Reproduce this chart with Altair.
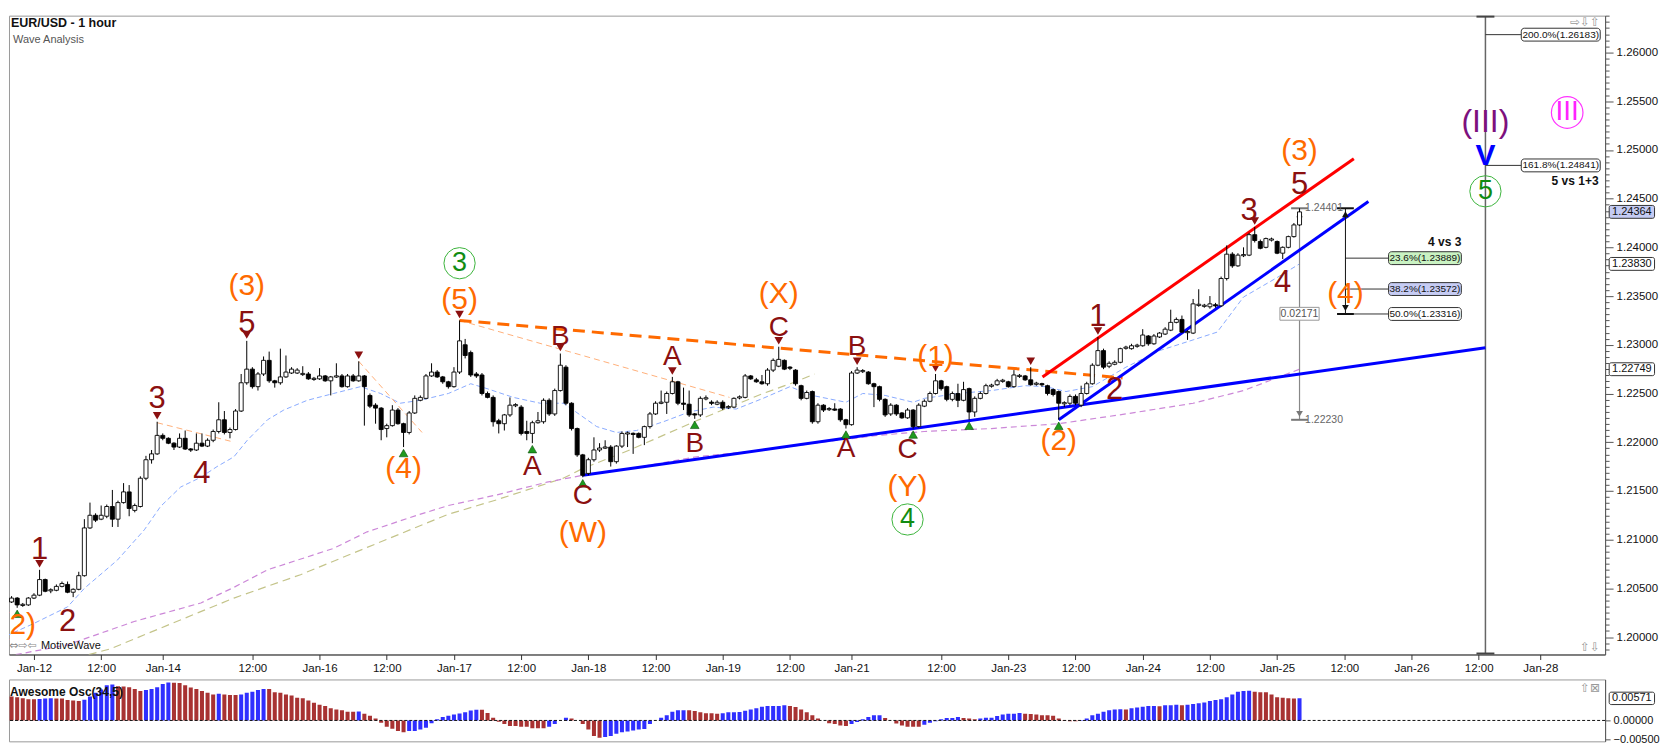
import altair as alt
import pandas as pd

# ---------------- data ----------------
FIRST_BAR = -5  # hourly bars, bar 0 = Jan-12 00:00

OPEN = [1.2038, 1.2036, 1.2040, 1.2033, 1.2033,
 1.2040, 1.2043, 1.2059, 1.2048, 1.2048, 1.2052, 1.2054, 1.2046, 1.2049, 1.2063,
 1.2112, 1.2125, 1.2121, 1.2124, 1.2134, 1.2121, 1.2138, 1.2149, 1.2130, 1.2134,
 1.2163, 1.2182, 1.2188, 1.2207, 1.2204, 1.2199, 1.2195, 1.2204, 1.2193, 1.2192,
 1.2199, 1.2196, 1.2202, 1.2211, 1.2223, 1.2210, 1.2213, 1.2232, 1.2261, 1.2275,
 1.2257, 1.2270, 1.2284, 1.2263, 1.2261, 1.2267, 1.2271, 1.2271, 1.2270, 1.2270,
 1.2265, 1.2265, 1.2268, 1.2263, 1.2267, 1.2268, 1.2257, 1.2268, 1.2263, 1.2268,
 1.2248, 1.2238, 1.2235, 1.2214, 1.2217, 1.2233, 1.2219, 1.2210, 1.2230, 1.2243,
 1.2245, 1.2268, 1.2272, 1.2267, 1.2262, 1.2257, 1.2272, 1.2300, 1.2292, 1.2270,
 1.2269, 1.2250, 1.2246, 1.2222, 1.2219, 1.2228, 1.2238, 1.2236, 1.2211, 1.2209,
 1.2220, 1.2221, 1.2243, 1.2229, 1.2253, 1.2277, 1.2240, 1.2214, 1.2187, 1.2168,
 1.2182, 1.2192, 1.2194, 1.2195, 1.2180, 1.2196, 1.2209, 1.2209, 1.2209, 1.2205,
 1.2216, 1.2229, 1.2240, 1.2241, 1.2250, 1.2262, 1.2240, 1.2239, 1.2229, 1.2228,
 1.2245, 1.2241, 1.2239, 1.2241, 1.2236, 1.2236, 1.2246, 1.2246, 1.2268, 1.2264,
 1.2262, 1.2260, 1.2274, 1.2278, 1.2284, 1.2277, 1.2274, 1.2258, 1.2245, 1.2252,
 1.2221, 1.2238, 1.2234, 1.2234, 1.2234, 1.2223, 1.2218, 1.2271, 1.2273, 1.2272,
 1.2260, 1.2257, 1.2244, 1.2229, 1.2238, 1.2230, 1.2225, 1.2233, 1.2216, 1.2237,
 1.2242, 1.2250, 1.2263, 1.2257, 1.2244, 1.2250, 1.2243, 1.2255, 1.2231, 1.2245,
 1.2250, 1.2258, 1.2259, 1.2263, 1.2262, 1.2257, 1.2268, 1.2268, 1.2264, 1.2260,
 1.2260, 1.2258, 1.2254, 1.2252, 1.2240, 1.2240, 1.2247, 1.2238, 1.2250, 1.2260,
 1.2279, 1.2294, 1.2278, 1.2280, 1.2282, 1.2297, 1.2296, 1.2299, 1.2299, 1.2309,
 1.2301, 1.2308, 1.2311, 1.2315, 1.2323, 1.2326, 1.2313, 1.2312, 1.2341, 1.2340,
 1.2339, 1.2341, 1.2340, 1.2368, 1.2393, 1.2381, 1.2392, 1.2392, 1.2413, 1.2406,
 1.2400, 1.2408, 1.2406, 1.2394, 1.2400, 1.2411, 1.2423]

HIGH = [1.2041, 1.2042, 1.2041, 1.2035, 1.2041,
 1.2045, 1.2069, 1.2060, 1.2050, 1.2054, 1.2057, 1.2057, 1.2050, 1.2067, 1.2121,
 1.2138, 1.2127, 1.2135, 1.2136, 1.2151, 1.2140, 1.2158, 1.2156, 1.2137, 1.2165,
 1.2186, 1.2192, 1.2221, 1.2209, 1.2205, 1.2200, 1.2209, 1.2212, 1.2194, 1.2209,
 1.2209, 1.2204, 1.2213, 1.2241, 1.2232, 1.2215, 1.2234, 1.2270, 1.2304, 1.2277,
 1.2272, 1.2288, 1.2293, 1.2264, 1.2296, 1.2289, 1.2277, 1.2276, 1.2278, 1.2272,
 1.2267, 1.2276, 1.2269, 1.2268, 1.2281, 1.2270, 1.2270, 1.2270, 1.2283, 1.2269,
 1.2250, 1.2240, 1.2236, 1.2219, 1.2238, 1.2235, 1.2220, 1.2232, 1.2248, 1.2248,
 1.2270, 1.2281, 1.2274, 1.2268, 1.2263, 1.2277, 1.2325, 1.2306, 1.2294, 1.2272,
 1.2271, 1.2252, 1.2248, 1.2224, 1.2229, 1.2246, 1.2240, 1.2238, 1.2222, 1.2222,
 1.2231, 1.2245, 1.2245, 1.2255, 1.2291, 1.2279, 1.2241, 1.2215, 1.2188, 1.2184,
 1.2205, 1.2199, 1.2202, 1.2197, 1.2197, 1.2211, 1.2211, 1.2210, 1.2210, 1.2217,
 1.2231, 1.2242, 1.2253, 1.2252, 1.2267, 1.2263, 1.2256, 1.2253, 1.2230, 1.2247,
 1.2248, 1.2243, 1.2243, 1.2243, 1.2238, 1.2246, 1.2248, 1.2270, 1.2269, 1.2266,
 1.2269, 1.2276, 1.2286, 1.2298, 1.2285, 1.2278, 1.2275, 1.2259, 1.2253, 1.2253,
 1.2240, 1.2239, 1.2236, 1.2240, 1.2235, 1.2224, 1.2273, 1.2277, 1.2275, 1.2273,
 1.2261, 1.2258, 1.2245, 1.2240, 1.2239, 1.2231, 1.2235, 1.2234, 1.2240, 1.2244,
 1.2252, 1.2270, 1.2264, 1.2258, 1.2252, 1.2260, 1.2262, 1.2256, 1.2247, 1.2252,
 1.2260, 1.2260, 1.2265, 1.2265, 1.2263, 1.2274, 1.2270, 1.2269, 1.2277, 1.2262,
 1.2261, 1.2259, 1.2255, 1.2253, 1.2242, 1.2249, 1.2249, 1.2258, 1.2262, 1.2281,
 1.2308, 1.2296, 1.2283, 1.2284, 1.2297, 1.2299, 1.2301, 1.2301, 1.2316, 1.2310,
 1.2311, 1.2313, 1.2318, 1.2336, 1.2328, 1.2330, 1.2315, 1.2347, 1.2357, 1.2342,
 1.2350, 1.2343, 1.2370, 1.2402, 1.2395, 1.2394, 1.2400, 1.2415, 1.2421, 1.2408,
 1.2410, 1.2410, 1.2407, 1.2401, 1.2412, 1.2425, 1.24401]

LOW = [1.2036, 1.2035, 1.2030, 1.2031, 1.2032,
 1.2039, 1.2042, 1.2046, 1.2045, 1.2047, 1.2051, 1.2045, 1.2041, 1.2048, 1.2062,
 1.2111, 1.2118, 1.2120, 1.2122, 1.2113, 1.2113, 1.2137, 1.2124, 1.2128, 1.2133,
 1.2161, 1.2178, 1.2187, 1.2202, 1.2198, 1.2192, 1.2194, 1.2192, 1.2190, 1.2191,
 1.2195, 1.2195, 1.2200, 1.2209, 1.2208, 1.2204, 1.2212, 1.2231, 1.2259, 1.2255,
 1.2253, 1.2268, 1.2261, 1.2256, 1.2259, 1.2266, 1.2270, 1.2270, 1.2268, 1.2264,
 1.2263, 1.2264, 1.2262, 1.2248, 1.2266, 1.2256, 1.2256, 1.2262, 1.2262, 1.2217,
 1.2235, 1.2219, 1.2202, 1.2205, 1.2216, 1.2218, 1.2195, 1.2208, 1.2229, 1.2242,
 1.2244, 1.2267, 1.2266, 1.2260, 1.2255, 1.2256, 1.2270, 1.2286, 1.2267, 1.2266,
 1.2248, 1.2245, 1.2216, 1.2209, 1.2212, 1.2226, 1.2236, 1.2207, 1.2202, 1.2199,
 1.2219, 1.2219, 1.2227, 1.2227, 1.2252, 1.2238, 1.2212, 1.2185, 1.2164, 1.2166,
 1.2180, 1.2190, 1.2193, 1.2175, 1.2178, 1.2194, 1.2195, 1.2188, 1.2204, 1.2197,
 1.2214, 1.2228, 1.2239, 1.2229, 1.2249, 1.2238, 1.2233, 1.2226, 1.2224, 1.2226,
 1.2243, 1.2238, 1.2238, 1.2233, 1.2234, 1.2235, 1.2244, 1.2245, 1.2264, 1.2261,
 1.2259, 1.2258, 1.2272, 1.2277, 1.2274, 1.2274, 1.2258, 1.2243, 1.2244, 1.2219,
 1.2219, 1.2231, 1.2232, 1.2232, 1.2221, 1.2214, 1.2217, 1.2270, 1.2271, 1.2259,
 1.2236, 1.2242, 1.2226, 1.2227, 1.2227, 1.2224, 1.2224, 1.2214, 1.2215, 1.2236,
 1.2241, 1.2249, 1.2253, 1.2242, 1.2242, 1.2236, 1.2242, 1.2223, 1.2226, 1.2244,
 1.2249, 1.2256, 1.2258, 1.2261, 1.2256, 1.2256, 1.2266, 1.2263, 1.2258, 1.2258,
 1.2257, 1.2248, 1.2247, 1.2223, 1.2236, 1.2238, 1.2238, 1.2236, 1.2249, 1.2259,
 1.2278, 1.2275, 1.2276, 1.2279, 1.2281, 1.2295, 1.2295, 1.2297, 1.2298, 1.2299,
 1.2300, 1.2307, 1.2310, 1.2314, 1.2322, 1.2312, 1.2305, 1.2311, 1.2339, 1.2338,
 1.2337, 1.2338, 1.2339, 1.2366, 1.2379, 1.2380, 1.2390, 1.2391, 1.2405, 1.2398,
 1.2399, 1.2406, 1.2393, 1.2388, 1.2399, 1.2410, 1.2422]

CLOSE = [1.2038, 1.2040, 1.2033, 1.2033, 1.2040,
 1.2043, 1.2059, 1.2047, 1.2048, 1.2052, 1.2055, 1.2046, 1.2049, 1.2063, 1.2112,
 1.2125, 1.2120, 1.2125, 1.2134, 1.2121, 1.2138, 1.2149, 1.2132, 1.2135, 1.2163,
 1.2182, 1.2188, 1.2207, 1.2204, 1.2199, 1.2195, 1.2204, 1.2193, 1.2192, 1.2199,
 1.2196, 1.2202, 1.2211, 1.2223, 1.2210, 1.2213, 1.2232, 1.2261, 1.2275, 1.2257,
 1.2270, 1.2284, 1.2263, 1.2261, 1.2267, 1.2272, 1.2275, 1.2274, 1.2270, 1.2265,
 1.2265, 1.2268, 1.2263, 1.2267, 1.2268, 1.2257, 1.2268, 1.2263, 1.2268, 1.2257,
 1.2237, 1.2235, 1.2213, 1.2217, 1.2233, 1.2219, 1.2210, 1.2230, 1.2245, 1.2246,
 1.2268, 1.2272, 1.2267, 1.2262, 1.2257, 1.2272, 1.2304, 1.2289, 1.2269, 1.2268,
 1.2250, 1.2246, 1.2221, 1.2219, 1.2228, 1.2238, 1.2238, 1.2209, 1.2209, 1.2220,
 1.2222, 1.2243, 1.2229, 1.2253, 1.2279, 1.2240, 1.2214, 1.2187, 1.2166, 1.2182,
 1.2192, 1.2194, 1.2195, 1.2180, 1.2196, 1.2209, 1.2209, 1.2208, 1.2205, 1.2216,
 1.2229, 1.2240, 1.2241, 1.2250, 1.2262, 1.2240, 1.2239, 1.2228, 1.2228, 1.2245,
 1.2245, 1.2240, 1.2241, 1.2235, 1.2236, 1.2245, 1.2246, 1.2268, 1.2265, 1.2262,
 1.2260, 1.2274, 1.2284, 1.2285, 1.2275, 1.2276, 1.2260, 1.2245, 1.2251, 1.2221,
 1.2238, 1.2233, 1.2234, 1.2233, 1.2223, 1.2218, 1.2271, 1.2274, 1.2273, 1.2260,
 1.2257, 1.2244, 1.2228, 1.2238, 1.2229, 1.2225, 1.2233, 1.2216, 1.2238, 1.2242,
 1.2250, 1.2263, 1.2255, 1.2244, 1.2250, 1.2243, 1.2254, 1.2231, 1.2245, 1.2250,
 1.2258, 1.2258, 1.2263, 1.2263, 1.2257, 1.2269, 1.2268, 1.2264, 1.2259, 1.2260,
 1.2259, 1.2250, 1.2249, 1.2240, 1.2240, 1.2247, 1.2240, 1.2250, 1.2260, 1.2279,
 1.2294, 1.2277, 1.2281, 1.2282, 1.2296, 1.2297, 1.2299, 1.2299, 1.2310, 1.2301,
 1.2309, 1.2312, 1.2316, 1.2323, 1.2326, 1.2313, 1.2313, 1.2342, 1.2341, 1.2340,
 1.2342, 1.2340, 1.2368, 1.2393, 1.2381, 1.2392, 1.2392, 1.2413, 1.2407, 1.2399,
 1.2409, 1.2408, 1.2394, 1.2400, 1.2411, 1.2423, 1.24364]

AO = [0.00671, 0.00621, 0.00600, 0.00571, 0.00550,
 0.00548, 0.00552, 0.00565, 0.00571, 0.00569, 0.00566, 0.00528, 0.00514, 0.00500, 0.00535,
 0.00621, 0.00714, 0.00800, 0.00907, 0.00928, 0.00885, 0.00880, 0.00857, 0.00814, 0.00764,
 0.00785, 0.00814, 0.00857, 0.00942, 0.00978, 0.00975, 0.00971, 0.00907, 0.00850, 0.00814,
 0.00764, 0.00714, 0.00671, 0.00693, 0.00671, 0.00657, 0.00655, 0.00671, 0.00714, 0.00743,
 0.00785, 0.00814, 0.00812, 0.00728, 0.00714, 0.00671, 0.00643, 0.00585, 0.00571, 0.00514,
 0.00457, 0.00407, 0.00371, 0.00314, 0.00286, 0.00264, 0.00228, 0.00226, 0.00230, 0.00171,
 0.00121, 0.00050, -0.00057, -0.00164, -0.00214, -0.00271, -0.00307, -0.00271, -0.00270, -0.00236,
 -0.00186, -0.00071, 0.00029, 0.00086, 0.00121, 0.00157, 0.00179, 0.00214, 0.00257, 0.00278,
 0.00276, 0.00193, 0.00071, -0.00036, -0.00093, -0.00143, -0.00145, -0.00164, -0.00166, -0.00200,
 -0.00201, -0.00203, -0.00164, -0.00093, 0.00001, 0.00071, 0.00050, -0.00001, -0.00093, -0.00236,
 -0.00400, -0.00450, -0.00428, -0.00400, -0.00343, -0.00307, -0.00286, -0.00257, -0.00236, -0.00221,
 -0.00093, 0.00001, 0.00071, 0.00136, 0.00228, 0.00264, 0.00265, 0.00263, 0.00243, 0.00214,
 0.00186, 0.00185, 0.00171, 0.00186, 0.00214, 0.00215, 0.00216, 0.00250, 0.00286, 0.00314,
 0.00357, 0.00371, 0.00372, 0.00373, 0.00393, 0.00371, 0.00350, 0.00286, 0.00214, 0.00136,
 0.00050, -0.00001, -0.00071, -0.00093, -0.00128, -0.00143, -0.00093, -0.00043, 0.00029, 0.00086,
 0.00136, 0.00137, 0.00064, -0.00001, -0.00079, -0.00128, -0.00164, -0.00165, -0.00166, -0.00114,
 -0.00057, -0.00021, 0.00029, 0.00064, 0.00065, 0.00086, 0.00064, 0.00050, 0.00029, 0.00050,
 0.00071, 0.00072, 0.00114, 0.00157, 0.00171, 0.00172, 0.00193, 0.00171, 0.00170, 0.00157,
 0.00136, 0.00135, 0.00121, 0.00050, 0.00014, -0.00021, -0.00022, -0.00015, 0.00050, 0.00136,
 0.00171, 0.00228, 0.00264, 0.00286, 0.00287, 0.00285, 0.00314, 0.00336, 0.00357, 0.00371,
 0.00372, 0.00370, 0.00393, 0.00394, 0.00407, 0.00393, 0.00407, 0.00428, 0.00443, 0.00464,
 0.00500, 0.00528, 0.00550, 0.00600, 0.00671, 0.00743, 0.00764, 0.00765, 0.00743, 0.00728,
 0.00727, 0.00671, 0.00600, 0.00585, 0.00571, 0.00570, 0.00571]

MA_FAST_BAR = [-5, 0, 6, 9, 14.9, 19.7, 22.6, 26.2, 29.8, 32.7, 35.7, 38.1, 41.7, 44.6, 48.8,
               53.5, 58.3, 61.9, 65.4, 69, 74, 78, 80.9, 85.6, 90.4, 94.5, 96.3, 100.5, 104,
               107.6, 112.4, 117, 121.3, 125.4, 130.2, 135, 139, 145, 148, 152, 157, 159, 165,
               171, 177, 180.7, 184.3, 189, 195, 201, 207, 211.3, 216, 222, 226]
MA_FAST = [1.2001, 1.2014, 1.2031, 1.2050, 1.2079, 1.2110, 1.2134, 1.2154, 1.2164, 1.2175,
           1.2185, 1.2202, 1.2223, 1.2233, 1.2243, 1.2250, 1.2257, 1.2250, 1.2240, 1.2243,
           1.2250, 1.2260, 1.2255, 1.2246, 1.2240, 1.2240, 1.2233, 1.2216, 1.2210, 1.2212,
           1.2221, 1.2231, 1.2236, 1.2234, 1.2245, 1.2257, 1.2248, 1.2241, 1.2250, 1.2248,
           1.2241, 1.2245, 1.2250, 1.2253, 1.2258, 1.2257, 1.2252, 1.2257, 1.2277, 1.2294,
           1.2305, 1.2313, 1.2349, 1.2369, 1.2383]
MA_SLOW_BAR = [-5, 6, 17.9, 29.8, 35.7, 41.7, 53.5, 59.5, 68.4, 74, 82.7, 91.6, 98, 106.4,
               118.3, 130.2, 142, 150.7, 159, 171, 183, 195, 207, 216, 226]
MA_SLOW = [1.1980, 1.1992, 1.2016, 1.2035, 1.2051, 1.2069, 1.2091, 1.2108, 1.2125, 1.2135,
           1.2146, 1.2159, 1.2166, 1.2173, 1.2185, 1.2192, 1.2201, 1.2207, 1.2211, 1.2214,
           1.2219, 1.2229, 1.2240, 1.2253, 1.22749]
MA_OLIVE_BAR = [5.3, 13.7, 23.8, 35.7, 47.6, 59.5, 68.4, 74, 82.7, 94.5, 98, 106.4, 118.3,
                130.2, 136, 139.4]
MA_OLIVE = [1.1975, 1.1988, 1.2012, 1.2040, 1.2064, 1.2092, 1.2113, 1.2126, 1.2141, 1.2163,
            1.2173, 1.2192, 1.2222, 1.2250, 1.2262, 1.2270]

TICK_BARS = [0, 12, 23, 39, 51, 63, 75, 87, 99, 111, 123, 135, 146, 162, 174, 186, 198,
             210, 222, 234, 246, 258, 269]
TICK_LABELS = ['Jan-12', '12:00', 'Jan-14', '12:00', 'Jan-16', '12:00', 'Jan-17', '12:00',
               'Jan-18', '12:00', 'Jan-19', '12:00', 'Jan-21', '12:00', 'Jan-23', '12:00',
               'Jan-24', '12:00', 'Jan-25', '12:00', 'Jan-26', '12:00', 'Jan-28']

# trend lines: (bars, prices)
TREND_RED = ([180.1, 235.7], [1.2267, 1.2491])
TREND_BLUE_CH = ([183, 238.3], [1.2223, 1.2447])
TREND_BLUE_LOW = ([98, 259.2], [1.2166, 1.2297])
TREND_ORANGE = ([76, 194.4], [1.2325, 1.2266])
THIN_ORANGE = [([22, 35.1], [1.2220, 1.2201]),
               ([58, 69.3], [1.2283, 1.2210]),
               ([76, 124.2], [1.2325, 1.2246])]

# wave labels: (text, bar, price)
DR_NUM = [("1", 1, 1.20893), ("2", 6, 1.20150), ("3", 22, 1.22444), ("4", 30, 1.21675),
          ("5", 38, 1.23212), ("1", 190, 1.23284), ("2", 193, 1.22533), ("3", 217, 1.24377),
          ("4", 223, 1.23632), ("5", 226, 1.24639)]
DR_LET = [("A", 89, 1.21747), ("B", 94, 1.23079), ("C", 98, 1.21447), ("A", 114, 1.22874),
          ("B", 118, 1.21986), ("C", 133, 1.23171), ("A", 145, 1.21935), ("B", 147, 1.22976),
          ("C", 156, 1.21918)]
ORANGE = [("(1)", -8.2, 1.20794), ("(2)", -2.9, 1.20128), ("(3)", 38, 1.23601),
          ("(4)", 66, 1.21729), ("(5)", 76, 1.23458), ("(W)", 98, 1.21064),
          ("(X)", 133, 1.23523), ("(Y)", 156, 1.21542), ("(1)", 161, 1.22874),
          ("(2)", 183, 1.22013), ("(3)", 226, 1.24992), ("(4)", 234.2, 1.23516)]
GREEN = [("3", 76, 1.23837), ("4", 156, 1.21207), ("5", 259.2, 1.24575)]
PURPLE = [("(III)", 259.2, 1.25290)]
BLUE_V = [("V", 259.2, 1.24940)]
MAGENTA = [("III", 273.8, 1.25384)]

HIGH_MARK_BARS = [1, 22, 38, 58, 76, 94, 114, 133, 147, 161, 178, 190, 218]
LOW_MARK_BARS = [-3, 66, 89, 98, 118, 145, 157, 167, 183]

FIB_EXT_PCT = ['200.0%', '161.8%']
FIB_EXT_VAL = [1.26183, 1.24841]
FIB_RET_PCT = ['23.6%', '38.2%', '50.0%']
FIB_RET_VAL = [1.23889, 1.23572, 1.23316]
WAVE3_HIGH = 1.24401
WAVE2_LOW = 1.22230
AXIS_TAGS = [1.24364, 1.23830, 1.22749]
AO_LAST = 0.00571

# ---------------- layout constants ----------------
XDOM = [-4.46, 280.57]
YDOM = [1.19821, 1.26378]
AODOM = [-0.0054, 0.0106]
W, H, HAO = 1599, 640, 62
FONT = 'Liberation Sans'
DARKRED = '#8b1010'
ORANGE_C = '#ff6a00'

XS = alt.Scale(domain=XDOM, nice=False, zero=False)
YS = alt.Scale(domain=YDOM, nice=False, zero=False)
AOS = alt.Scale(domain=AODOM, nice=False, zero=False)

labels_js = "[" + ",".join("'%s'" % l for l in TICK_LABELS) + "]"
bars_js = "[" + ",".join(str(b) for b in TICK_BARS) + "]"
XAX = alt.Axis(values=TICK_BARS, labelExpr=f"{labels_js}[indexof({bars_js}, datum.value)]",
               title=None, grid=False, tickSize=5, labelFontSize=11.5, labelFont=FONT,
               labelColor='#111', domainColor='#333', tickColor='#333', labelPadding=3,
               labelOverlap=False, labelFlush=False)
minor_vals = [round(1.19875 + 0.000625 * k, 6) for k in range(105)]
major_test = "abs(datum.value*200 - round(datum.value*200)) < 0.001"
YAX = alt.Axis(orient='right', values=minor_vals, title=None, grid=False,
               labelExpr=f"({major_test}) ? format(datum.value, '.5f') : ''",
               tickSize={"condition": {"test": major_test, "value": 8}, "value": 4},
               labelFontSize=11.5, labelFont=FONT, labelColor='#111', domainColor='#555',
               tickColor='#555', labelPadding=3, labelOverlap=False, labelFlush=False)


def X(f):
    return alt.X(f'{f}:Q', scale=XS, axis=XAX)


def Y(f):
    return alt.Y(f'{f}:Q', scale=YS, axis=YAX)


def line_df(xs, ys, seg=0):
    return pd.DataFrame({'bar': xs, 'price': ys, 'seg': seg})


def lab_df(rows):
    return pd.DataFrame(rows, columns=['t', 'bar', 'price'])


# ---------------- candles ----------------
n = min(len(OPEN), len(HIGH), len(LOW), len(CLOSE))
c = pd.DataFrame({'bar': list(range(FIRST_BAR, FIRST_BAR + n)), 'open': OPEN[:n],
                  'high': HIGH[:n], 'low': LOW[:n], 'close': CLOSE[:n]})
c['top'] = c[['open', 'close']].max(axis=1)
c['bot'] = c[['open', 'close']].min(axis=1)
mid = (c['top'] + c['bot']) / 2
thin = (c['top'] - c['bot']) < 0.00012
c.loc[thin, 'top'] = mid[thin] + 0.00006
c.loc[thin, 'bot'] = mid[thin] - 0.00006
c['hi'] = c[['high', 'top']].max(axis=1)
c['lo'] = c[['low', 'bot']].min(axis=1)
c['up'] = c['close'] >= c['open']
c['x0'] = c['bar'] - 0.36
c['x1'] = c['bar'] + 0.36

wicks = alt.Chart(c).mark_rule(color='black', strokeWidth=1, clip=True).encode(
    x=X('bar'), y=Y('lo'), y2='hi')
bodies = alt.Chart(c).mark_rect(stroke='black', strokeWidth=0.9, clip=True).encode(
    x=X('x0'), x2='x1', y=Y('bot'), y2='top',
    fill=alt.condition('datum.up', alt.value('white'), alt.value('black')))

# ---------------- lines ----------------
ma_fast = alt.Chart(line_df(MA_FAST_BAR, MA_FAST)).mark_line(
    color='#8aabff', strokeWidth=1, strokeDash=[5, 3], clip=True).encode(x=X('bar'), y=Y('price'))
ma_slow = alt.Chart(line_df(MA_SLOW_BAR, MA_SLOW)).mark_line(
    color='#cc88d8', strokeWidth=1.2, strokeDash=[6, 4], clip=True).encode(x=X('bar'), y=Y('price'))
ma_olive = alt.Chart(line_df(MA_OLIVE_BAR, MA_OLIVE)).mark_line(
    color='#c4c48a', strokeWidth=1.2, strokeDash=[8, 5], clip=True).encode(x=X('bar'), y=Y('price'))
thin_or = alt.Chart(pd.concat([line_df(a, b, i) for i, (a, b) in enumerate(THIN_ORANGE)])).mark_line(
    color='#ffb07a', strokeWidth=1, strokeDash=[6, 4], clip=True).encode(
    x=X('bar'), y=Y('price'), detail='seg:N')
tr_orange = alt.Chart(line_df(*TREND_ORANGE)).mark_line(
    color=ORANGE_C, strokeWidth=3, strokeDash=[12, 7], clip=True).encode(x=X('bar'), y=Y('price'))
tr_blue_low = alt.Chart(line_df(*TREND_BLUE_LOW)).mark_line(
    color='#0000ff', strokeWidth=3, clip=True).encode(x=X('bar'), y=Y('price'))
tr_blue_ch = alt.Chart(line_df(*TREND_BLUE_CH)).mark_line(
    color='#0000ff', strokeWidth=3, clip=True).encode(x=X('bar'), y=Y('price'))
tr_red = alt.Chart(line_df(*TREND_RED)).mark_line(
    color='#ff0000', strokeWidth=3, clip=True).encode(x=X('bar'), y=Y('price'))

# ---------------- fib / measure tools ----------------
V_BAR, EXT_BOX = 259.2, (265.6, 279.7)
RET_BAR, RET_BOX = 234.2, (241.9, 254.9)
MEAS_BAR = 226
BOX_H = 0.00066

vline = pd.DataFrame({'bar': [V_BAR], 'p0': [YDOM[0] + 0.0001], 'p1': [YDOM[1] - 0.0001]})
big_v = alt.Chart(vline).mark_rule(color='#666', strokeWidth=1.5).encode(
    x=X('bar'), y=Y('p0'), y2='p1')
vcaps = pd.DataFrame({'b0': [V_BAR - 1.6] * 2, 'b1': [V_BAR + 1.6] * 2,
                      'p': [YDOM[1] - 0.0001, YDOM[0] + 0.0001]})
big_caps = alt.Chart(vcaps).mark_rule(color='#444', strokeWidth=2).encode(
    x=X('b0'), x2='b1', y=Y('p'))

ext = pd.DataFrame({'pct': FIB_EXT_PCT, 'val': FIB_EXT_VAL})
ext['t'] = ext['pct'] + '(' + ext['val'].map(lambda v: f'{v:.5f}') + ')'
ext['b0'], ext['b1'], ext['bx0'], ext['bx1'] = V_BAR, EXT_BOX[0], EXT_BOX[0], EXT_BOX[1]
ext['lo'], ext['hi'], ext['fill'] = ext['val'] - BOX_H, ext['val'] + BOX_H, '#ffffff'
ext['bc'] = (EXT_BOX[0] + EXT_BOX[1]) / 2

ret = pd.DataFrame({'pct': FIB_RET_PCT, 'val': FIB_RET_VAL})
ret['t'] = ret['pct'] + '(' + ret['val'].map(lambda v: f'{v:.5f}') + ')'
ret['b0'], ret['b1'], ret['bx0'], ret['bx1'] = RET_BAR, RET_BOX[0], RET_BOX[0], RET_BOX[1]
ret['lo'], ret['hi'] = ret['val'] - BOX_H, ret['val'] + BOX_H
ret['fill'] = ['#c9f2c2', '#c6ccf4', '#ffffff']
ret['bc'] = (RET_BOX[0] + RET_BOX[1]) / 2

fib = pd.concat([ext, ret])
fib_conn = alt.Chart(fib).mark_rule(color='#333', strokeWidth=1).encode(
    x=X('b0'), x2='b1', y=Y('val'))
fib_box = alt.Chart(fib).mark_rect(stroke='#333', strokeWidth=1, cornerRadius=3).encode(
    x=X('bx0'), x2='bx1', y=Y('lo'), y2='hi', fill=alt.Fill('fill:N', scale=None))
fib_txt = alt.Chart(fib).mark_text(font=FONT, fontSize=10, color='#111').encode(
    x=X('bc'), y=Y('val'), text='t:N')

ret_v = pd.DataFrame({'bar': [RET_BAR], 'p0': [FIB_RET_VAL[-1]], 'p1': [WAVE3_HIGH]})
ret_line = alt.Chart(ret_v).mark_rule(color='#111', strokeWidth=1).encode(
    x=X('bar'), y=Y('p0'), y2='p1')
ret_caps_df = pd.DataFrame({'b0': [RET_BAR - 1.5] * 2, 'b1': [RET_BAR + 1.5] * 2,
                            'p': [WAVE3_HIGH, FIB_RET_VAL[-1]]})
ret_caps = alt.Chart(ret_caps_df).mark_rule(color='#111', strokeWidth=2).encode(
    x=X('b0'), x2='b1', y=Y('p'))
ret_arrow_up = alt.Chart(pd.DataFrame({'bar': [RET_BAR], 'p': [WAVE3_HIGH]})).mark_point(
    shape='triangle-up', filled=True, size=45, color='#111', yOffset=6, opacity=1).encode(
    x=X('bar'), y=Y('p'))
ret_arrow_dn = alt.Chart(pd.DataFrame({'bar': [RET_BAR], 'p': [FIB_RET_VAL[-1]]})).mark_point(
    shape='triangle-down', filled=True, size=45, color='#111', yOffset=-6, opacity=1).encode(
    x=X('bar'), y=Y('p'))

meas_v = pd.DataFrame({'bar': [MEAS_BAR], 'p0': [WAVE2_LOW], 'p1': [WAVE3_HIGH]})
meas_line = alt.Chart(meas_v).mark_rule(color='#888', strokeWidth=1.2).encode(
    x=X('bar'), y=Y('p0'), y2='p1')
meas_caps_df = pd.DataFrame({'b0': [MEAS_BAR - 1.5] * 2, 'b1': [MEAS_BAR + 1.5] * 2,
                             'p': [WAVE3_HIGH, WAVE2_LOW]})
meas_caps = alt.Chart(meas_caps_df).mark_rule(color='#777', strokeWidth=2).encode(
    x=X('b0'), x2='b1', y=Y('p'))
meas_up = alt.Chart(pd.DataFrame({'bar': [MEAS_BAR], 'p': [WAVE3_HIGH]})).mark_point(
    shape='triangle-up', filled=True, size=45, color='#777', yOffset=6, opacity=1).encode(
    x=X('bar'), y=Y('p'))
meas_dn = alt.Chart(pd.DataFrame({'bar': [MEAS_BAR], 'p': [WAVE2_LOW]})).mark_point(
    shape='triangle-down', filled=True, size=45, color='#777', yOffset=-6, opacity=1).encode(
    x=X('bar'), y=Y('p'))
meas_txt = alt.Chart(pd.DataFrame({'bar': [MEAS_BAR + 1.0] * 2, 'p': [WAVE3_HIGH, WAVE2_LOW],
                                   't': [f'{WAVE3_HIGH:.5f}', f'{WAVE2_LOW:.5f}'],
                                   'dy': [7, -8]})).mark_text(
    font=FONT, fontSize=10.5, color='#666', align='left').encode(
    x=X('bar'), y=Y('p'), text='t:N', yOffset=alt.YOffset('dy:Q', scale=None))
rng = round(WAVE3_HIGH - WAVE2_LOW, 5)
rng_df = pd.DataFrame({'b0': [MEAS_BAR - 3.5], 'b1': [MEAS_BAR + 3.5], 'bar': [MEAS_BAR],
                       'p': [1.23318], 'lo': [1.23318 - BOX_H], 'hi': [1.23318 + BOX_H],
                       't': [f'{rng:.5f}']})
rng_box = alt.Chart(rng_df).mark_rect(fill='white', stroke='#999', strokeWidth=1).encode(
    x=X('b0'), x2='b1', y=Y('lo'), y2='hi')
rng_txt = alt.Chart(rng_df).mark_text(font=FONT, fontSize=10.5, color='#555').encode(
    x=X('bar'), y=Y('p'), text='t:N')

notes = pd.DataFrame({'t': ['5 vs 1+3', '4 vs 3'], 'bar': [279.4, 254.9],
                      'price': [1.24684, 1.24059]})
notes_txt = alt.Chart(notes).mark_text(font=FONT, fontSize=12, fontWeight='bold',
                                       color='#111', align='right').encode(
    x=X('bar'), y=Y('price'), text='t:N')

# ---------------- markers and wave labels ----------------
hm = c[c['bar'].isin(HIGH_MARK_BARS)]
lm = c[c['bar'].isin(LOW_MARK_BARS)]
hi_marks = alt.Chart(hm).mark_point(shape='triangle-down', filled=True, size=75,
                                    color='#8b1010', opacity=1, yOffset=-6, clip=True).encode(
    x=X('bar'), y=Y('high'))
lo_marks = alt.Chart(lm).mark_point(shape='triangle-up', filled=True, size=75,
                                    color='#1f9a1f', opacity=1, yOffset=6, clip=True,
                                    stroke='#0b4f0b', strokeWidth=0.6).encode(
    x=X('bar'), y=Y('low'))


def labels(rows, color, size, weight='normal'):
    return alt.Chart(lab_df(rows)).mark_text(
        font=FONT, fontSize=size, color=color, fontWeight=weight, baseline='middle',
        align='center', clip=True).encode(x=X('bar'), y=Y('price'), text='t:N')


lab_num = labels(DR_NUM, DARKRED, 31)
lab_let = labels(DR_LET, DARKRED, 28)
lab_or = labels(ORANGE, ORANGE_C, 30)
lab_green = labels(GREEN, '#128c12', 27)
lab_purple = labels(PURPLE, '#7d107d', 32)
lab_v = labels(BLUE_V, '#0000ff', 30, 'bold')
lab_mag = labels(MAGENTA, '#ff22ff', 28)
green_circ = alt.Chart(lab_df(GREEN)).mark_point(
    shape='circle', filled=False, size=980, color='#3cb43c', strokeWidth=1, opacity=1).encode(
    x=X('bar'), y=Y('price'))
mag_circ = alt.Chart(lab_df(MAGENTA)).mark_point(
    shape='circle', filled=False, size=1000, color='#ff33ff', strokeWidth=1.2, opacity=1).encode(
    x=X('bar'), y=Y('price'))

# ---------------- price axis tags ----------------
tags = pd.DataFrame({'p': AXIS_TAGS, 'fill': ['#c4cbf3', '#ffffff', '#ffffff']})
tags['t'] = tags['p'].map(lambda v: f'{v:.5f}')
tags['b0'], tags['b1'], tags['bc'] = 281.3, 289.4, 285.35
tags['lo'], tags['hi'] = tags['p'] - BOX_H, tags['p'] + BOX_H
tag_box = alt.Chart(tags).mark_rect(stroke='#333', strokeWidth=1, cornerRadius=2).encode(
    x=X('b0'), x2='b1', y=Y('lo'), y2='hi', fill=alt.Fill('fill:N', scale=None))
tag_txt = alt.Chart(tags).mark_text(font=FONT, fontSize=11, color='#111').encode(
    x=X('bc'), y=Y('p'), text='t:N')

# ---------------- static texts ----------------
def px_text(t, x, y, size, color='#111', weight='normal', align='left', font=FONT):
    return alt.Chart(pd.DataFrame({'t': [t]})).mark_text(
        font=font, fontSize=size, color=color, fontWeight=weight, align=align,
        baseline='middle').encode(x=alt.value(x), y=alt.value(y), text='t:N')


title1 = px_text('EUR/USD - 1 hour', 2, 7, 12.5, '#111', 'bold')
title2 = px_text('Wave Analysis', 4, 24, 11, '#555')
logo = px_text('\u21d4\u21e8\u21e6', 0, 631, 11, '#888', font='DejaVu Sans')
logo2 = px_text('MotiveWave', 32, 631, 11, '#111')
icons_tr = px_text('\u21e8\u21e9\u21e7', 1594, 6, 12, '#999', align='right', font='DejaVu Sans')
icons_br = px_text('\u21e7\u21e9', 1594, 632, 12, '#999', align='right', font='DejaVu Sans')

main = alt.layer(
    ma_olive, ma_slow, ma_fast, thin_or,
    big_v, big_caps, meas_line, meas_caps, meas_up, meas_dn,
    tr_blue_low, tr_orange, tr_blue_ch, tr_red,
    wicks, bodies, hi_marks, lo_marks,
    fib_conn, fib_box, fib_txt, ret_line, ret_caps, ret_arrow_up, ret_arrow_dn,
    rng_box, rng_txt, meas_txt, notes_txt,
    green_circ, mag_circ, lab_num, lab_let, lab_or, lab_green, lab_purple, lab_v, lab_mag,
    tag_box, tag_txt, title1, title2, logo, logo2, icons_tr, icons_br,
).properties(width=W, height=H)

# ---------------- Awesome Oscillator ----------------
m = min(len(AO), n)
ao = pd.DataFrame({'bar': list(range(FIRST_BAR, FIRST_BAR + m)), 'v': AO[:m]})
ao['rising'] = ao['v'].diff().fillna(1) > 0
ao['x0'] = ao['bar'] - 0.36
ao['x1'] = ao['bar'] + 0.36
ao['z'] = 0.0

XA = alt.X('x0:Q', scale=XS, axis=None)
AOAX = alt.Axis(orient='right', values=[-0.005, 0.0], format='.5f', title=None, grid=False,
                tickSize=5, labelFontSize=11, labelFont=FONT, labelColor='#111',
                domainColor='#555', tickColor='#555', labelPadding=3, labelFlush=False)
ao_bars = alt.Chart(ao).mark_rect(clip=True).encode(
    x=XA, x2='x1', y=alt.Y('z:Q', scale=AOS, axis=AOAX), y2='v',
    fill=alt.condition('datum.rising', alt.value('#2f2fff'), alt.value('#a83232')))
ao_zero = alt.Chart(pd.DataFrame({'z': [0.0]})).mark_rule(
    color='#111', strokeDash=[3, 2], strokeWidth=1).encode(
    y=alt.Y('z:Q', scale=AOS, axis=AOAX))
ao_tag_df = pd.DataFrame({'b0': [281.3], 'b1': [289.4], 'x0': [285.35], 'p': [AO_LAST],
                          'lo': [AO_LAST - 0.0016], 'hi': [AO_LAST + 0.0016],
                          't': [f'{AO_LAST:.5f}']})
ao_tag_box = alt.Chart(ao_tag_df).mark_rect(fill='white', stroke='#333', strokeWidth=1,
                                             cornerRadius=2).encode(
    x=alt.X('b0:Q', scale=XS, axis=None), x2='b1',
    y=alt.Y('lo:Q', scale=AOS, axis=AOAX), y2='hi')
ao_tag_txt = alt.Chart(ao_tag_df).mark_text(font=FONT, fontSize=11, color='#111').encode(
    x=alt.X('x0:Q', scale=XS, axis=None), y=alt.Y('p:Q', scale=AOS, axis=AOAX), text='t:N')
ao_title = px_text('Awesome Osc(34,5)', 1, 13, 12, '#111', 'bold')
ao_icons = px_text('\u21e7\u22a0', 1594, 9, 12, '#999', align='right', font='DejaVu Sans')

ao_chart = alt.layer(ao_bars, ao_zero, ao_tag_box, ao_tag_txt, ao_title, ao_icons).properties(
    width=W, height=HAO)

chart = alt.vconcat(main, ao_chart, spacing=4).properties(
    padding=0, background='white').configure_view(stroke='#9a9a9a', strokeWidth=1)

chart.save("out.html", embed_options={"renderer": "svg", "actions": False})
